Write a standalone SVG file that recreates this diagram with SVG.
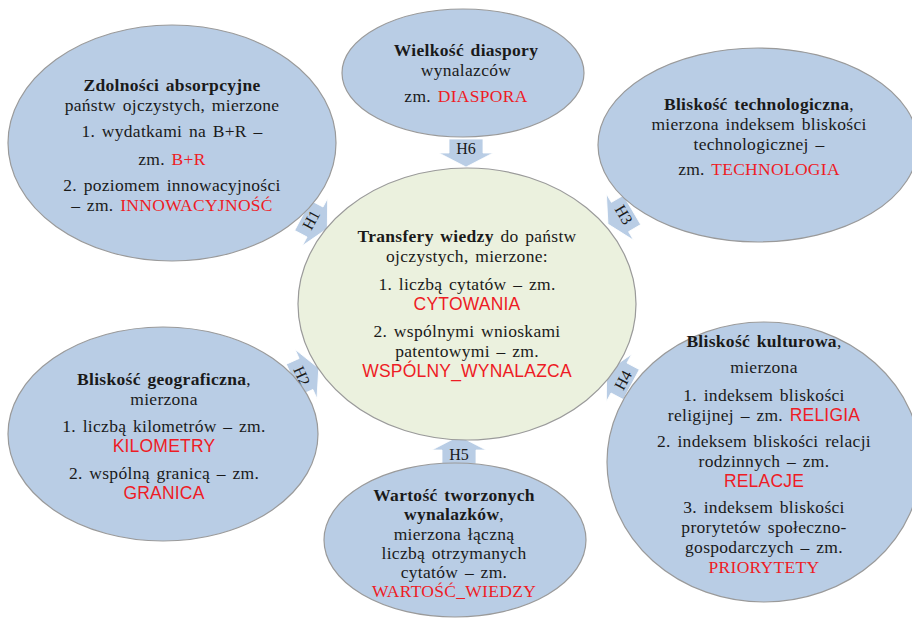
<svg xmlns="http://www.w3.org/2000/svg" width="912" height="626" viewBox="0 0 912 626">
  <defs>
    <style>
      .bg { fill: #ffffff; }
      .node { fill: #b9cde5; stroke: #9a9a9a; stroke-width: 1.2; }
      .core { fill: #ebf1de; stroke: #9a9a9a; stroke-width: 1.2; }
      .arrow { fill: #b9cde5; stroke: #ffffff; stroke-width: 0.8; }
      text { font-family: "Liberation Serif", "Times New Roman", serif; font-size: 17.5px; letter-spacing: 0.3px; word-spacing: 2px; fill: #1a1a1a; text-anchor: middle; }
      .b { font-weight: bold; }
      .var { fill: #ee1c25; }
      .sans { font-family: "Liberation Sans", Arial, sans-serif; font-size: 17.5px; letter-spacing: 0.2px; }
      .lbl { font-size: 16px; letter-spacing: 0; }
    </style>
    <!-- block arrow pointing down (+y), origin at the base of the head -->
    <path id="blockArrow" class="arrow" d="M -17 -14 L 17 -14 L 17 0 L 27 0 L 0 14 L -27 0 L -17 0 Z"/>
  </defs>

  <rect class="bg" x="0" y="0" width="912" height="626"/>

  <!-- connectors: block arrows from each factor towards the centre -->
  <g id="connectors">
    <g id="h6" transform="translate(466,153)">
      <use href="#blockArrow"/>
      <text class="lbl" x="0" y="1">H6</text>
    </g>
    <g id="h1" transform="translate(315,222) rotate(-62)">
      <use href="#blockArrow"/>
      <text class="lbl" x="0" y="1">H1</text>
    </g>
    <g id="h3" transform="translate(620,217) rotate(59.6)">
      <use href="#blockArrow"/>
      <text class="lbl" x="0" y="1">H3</text>
    </g>
    <g id="h2" transform="translate(306,374) rotate(-114)">
      <use href="#blockArrow"/>
      <text class="lbl" x="0" y="-4" transform="rotate(180 0 -7)">H2</text>
    </g>
    <g id="h4" transform="translate(619,378) rotate(118)">
      <use href="#blockArrow"/>
      <text class="lbl" x="0" y="-4" transform="rotate(180 0 -7)">H4</text>
    </g>
    <g id="h5" transform="translate(459,450) rotate(180)">
      <use href="#blockArrow"/>
      <text class="lbl" x="0" y="-4" transform="rotate(180 0 -7)">H5</text>
    </g>
  </g>

  <!-- absorptive capacity -->
  <g id="node-absorpcja">
    <ellipse class="node" cx="172" cy="143" rx="164" ry="118"/>
    <text class="b" x="172" y="91">Zdolności absorpcyjne</text>
    <text x="172" y="111">państw ojczystych, mierzone</text>
    <text x="172" y="137">1. wydatkami na B+R  –</text>
    <text x="172" y="165">zm. <tspan class="var">B+R</tspan></text>
    <text x="172" y="191">2. poziomem innowacyjności</text>
    <text x="172" y="211">– zm. <tspan class="var">INNOWACYJNOŚĆ</tspan></text>
  </g>

  <!-- diaspora size -->
  <g id="node-diaspora">
    <ellipse class="node" cx="463" cy="73" rx="121" ry="64"/>
    <text class="b" x="466" y="56">Wielkość diaspory</text>
    <text x="466" y="76">wynalazców</text>
    <text x="466" y="102">zm. <tspan class="var">DIASPORA</tspan></text>
  </g>

  <!-- technological proximity -->
  <g id="node-technologia">
    <ellipse class="node" cx="758" cy="145" rx="160" ry="97"/>
    <text class="b" x="759" y="110">Bliskość technologiczna<tspan font-weight="normal">,</tspan></text>
    <text x="759" y="130">mierzona indeksem bliskości</text>
    <text x="759" y="150">technologicznej –</text>
    <text x="759" y="175">zm. <tspan class="var">TECHNOLOGIA</tspan></text>
  </g>

  <!-- knowledge transfers (dependent variable) -->
  <g id="node-transfery">
    <ellipse class="core" cx="467" cy="304" rx="169" ry="136"/>
    <text x="467" y="242"><tspan class="b">Transfery wiedzy</tspan> do państw</text>
    <text x="467" y="262">ojczystych, mierzone:</text>
    <text x="467" y="290">1. liczbą cytatów – zm.</text>
    <text class="var sans" x="467" y="310">CYTOWANIA</text>
    <text x="467" y="337">2. wspólnymi wnioskami</text>
    <text x="467" y="357">patentowymi – zm.</text>
    <text class="var sans" x="467" y="377">WSPÓLNY_WYNALAZCA</text>
  </g>

  <!-- geographic proximity -->
  <g id="node-geografia">
    <ellipse class="node" cx="163" cy="434" rx="155" ry="107"/>
    <text class="b" x="164" y="385">Bliskość geograficzna<tspan font-weight="normal">,</tspan></text>
    <text x="164" y="405">mierzona</text>
    <text x="164" y="432">1. liczbą kilometrów – zm.</text>
    <text class="var sans" x="164" y="452">KILOMETRY</text>
    <text x="164" y="479">2. wspólną granicą – zm.</text>
    <text class="var sans" x="164" y="499">GRANICA</text>
  </g>

  <!-- cultural proximity -->
  <g id="node-kultura">
    <ellipse class="node" cx="764" cy="462" rx="157" ry="140"/>
    <text class="b" x="764" y="347">Bliskość kulturowa<tspan font-weight="normal">,</tspan></text>
    <text x="764" y="373">mierzona</text>
    <text x="764" y="401">1. indeksem bliskości</text>
    <text x="764" y="421">religijnej – zm. <tspan class="var sans">RELIGIA</tspan></text>
    <text x="764" y="447">2. indeksem bliskości relacji</text>
    <text x="764" y="467">rodzinnych – zm.</text>
    <text class="var sans" x="764" y="487">RELACJE</text>
    <text x="764" y="513">3. indeksem bliskości</text>
    <text x="764" y="533">prorytetów społeczno-</text>
    <text x="764" y="553">gospodarczych – zm.</text>
    <text class="var" x="764" y="573">PRIORYTETY</text>
  </g>

  <!-- value of inventions -->
  <g id="node-wartosc">
    <ellipse class="node" cx="455" cy="540" rx="131" ry="77"/>
    <text class="b" x="454" y="501">Wartość tworzonych</text>
    <text class="b" x="454" y="520">wynalazków<tspan font-weight="normal">,</tspan></text>
    <text x="454" y="540">mierzona łączną</text>
    <text x="454" y="559">liczbą otrzymanych</text>
    <text x="454" y="578">cytatów – zm.</text>
    <text class="var" x="454" y="597">WARTOŚĆ_WIEDZY</text>
  </g>
</svg>
